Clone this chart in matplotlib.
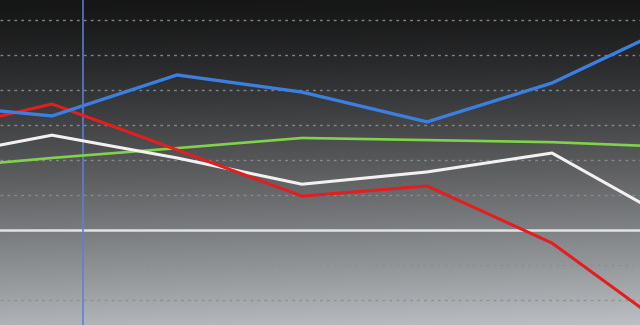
import numpy as np
import matplotlib.pyplot as plt

# category positions (evenly spaced points, first and last fall outside the view)
x = [0, 1, 2, 3, 4, 5, 6]

blue = [3.60, 3.26, 4.43, 3.94, 3.09, 4.20, 5.89]
red = [2.77, 3.60, 2.29, 0.97, 1.26, -0.37, -2.97]
white = [2.03, 2.71, 2.06, 1.31, 1.66, 2.20, 0.20]
green = [1.74, 2.06, 2.34, 2.63, 2.57, 2.51, 2.37]

grid_levels = [-2, -1, 1, 2, 3, 4, 5, 6]
marker_x = 1.248

fig = plt.figure(figsize=(6.4, 3.25), dpi=100)
ax = fig.add_axes([0, 0, 1, 1])

x0, x1 = 0.584, 5.704
y0, y1 = -2.71, 6.57

# background gradient: dark at top, light gray at bottom, faint blue tint
g = np.linspace(0, 1, 256)[:, None]
tone = 0.09 + 0.64 * g ** 1.3
horiz = np.linspace(0.95, 1.02, 256)[None, :]
img = tone * horiz
rgb = np.dstack([img * 0.99, img * 1.01, img * 1.03])
rgb = np.clip(rgb, 0, 1)
ax.imshow(rgb, extent=[x0, x1, y0, y1], origin='upper', aspect='auto', zorder=0)

for lv in grid_levels:
    ax.axhline(lv, color='#8c8e90', lw=1, ls=(0, (2, 3)), alpha=0.9, zorder=1)
ax.axhline(0, color='#e2e2e2', lw=1.8, zorder=2)
ax.axvline(marker_x, color='#5a7fe0', lw=1.1, zorder=2)

ax.plot(x, green, color='#7fd24a', lw=1.9, zorder=3)
ax.plot(x, white, color='#f4f0f0', lw=2.2, zorder=4)
ax.plot(x, red, color='#e41e1e', lw=2.2, zorder=5)
ax.plot(x, blue, color='#3d7fe0', lw=2.4, zorder=6)

ax.set_xlim(x0, x1)
ax.set_ylim(y0, y1)
ax.axis('off')

plt.savefig('out.png', dpi=100)
